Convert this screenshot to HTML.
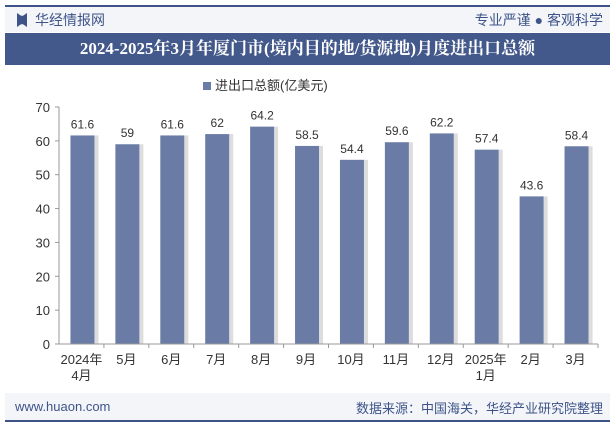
<!DOCTYPE html>
<html><head><meta charset="utf-8"><style>
body{margin:0;width:615px;height:427px;background:#fff;font-family:"Liberation Sans","Noto Sans CJK SC",sans-serif;overflow:hidden;position:relative}
.abs{position:absolute}
</style></head><body>
<div class="abs" style="left:5px;top:5px;width:605px;height:2px;background:#3e5488"></div>
<div class="abs" style="left:5px;top:7px;width:605px;height:25px;background:#f3f5f9"></div>
<div class="abs" style="left:17px;top:13px;width:10px;height:14px;background:#3e5488;clip-path:polygon(0 0,40% 20%,60% 20%,100% 0,100% 100%,60% 80%,40% 80%,0 100%)"></div>
<div class="abs" style="left:35px;top:10px;font-size:14px;color:#3e5488">华经情报网</div>
<div class="abs" style="right:12px;top:10px;font-size:14px;color:#3e5488">专业严谨 ● 客观科学</div>
<div class="abs" style="left:5px;top:33px;width:605px;height:32px;background:#44598b;color:#fff;font-family:'Liberation Serif','Noto Serif CJK SC',serif;font-weight:bold;font-size:17px;line-height:32px;text-align:center">2024-2025年3月年厦门市(境内目的地/货源地)月度进出口总额</div>
<div class="abs" style="left:203px;top:75px;font-size:13px;color:#333"><span style="display:inline-block;width:8px;height:8px;background:#6a7ca6;margin-right:4px"></span>进出口总额(亿美元)</div>
<svg class="abs" style="left:0;top:0" width="615" height="427">
<g id="g"></g></svg>
<div class="abs" style="left:5px;top:393px;width:605px;height:27px;background:#f3f5f9"></div>
<div class="abs" style="left:15px;top:399px;font-size:13px;color:#3e5488">www.huaon.com</div>
<div class="abs" style="right:12px;top:398px;font-size:13px;color:#3e5488">数据来源：中国海关，华经产业研究院整理</div>
<div class="abs" style="left:5px;top:420px;width:605px;height:2px;background:#3e5488"></div>
<script>
const categories=["2024年\n4月","5月","6月","7月","8月","9月","10月","11月","12月","2025年\n1月","2月","3月"];
const values=[61.6,59,61.6,62,64.2,58.5,54.4,59.6,62.2,57.4,43.6,58.4];
const yTicks=[0,10,20,30,40,50,60,70];
const NS="http://www.w3.org/2000/svg",g=document.getElementById('g');
const x0=59,x1=598,yb=344,yt=107,ymax=70;
const y=v=>yb-(yb-yt)*v/ymax;
const bw=(x1-x0)/categories.length;
const xc=i=>x0+bw*(i+0.5);
function mk(t,a,txt){const e=document.createElementNS(NS,t);for(const k in a)e.setAttribute(k,a[k]);if(txt!=null)e.textContent=txt;g.appendChild(e);return e;}
let e=mk('line',{x1:x0,y1:yt,x2:x0,y2:yb,stroke:'#999'});

yTicks.forEach(t=>{const l=mk('line',{x1:x0-4,x2:x0,y1:y(t),y2:y(t),stroke:'#999'});

const tx=mk('text',{x:x0-9,y:y(t)+5,'text-anchor':'end','font-size':13,fill:'#333'},t);
});
values.forEach((v,i)=>{
const s=mk('rect',{x:xc(i)-11+24,y:y(v),width:4,height:yb-y(v),fill:'#ddd'});

const r=mk('rect',{x:xc(i)-11,y:y(v),width:24,height:yb-y(v),fill:'#6a7ca6'});

const t=mk('text',{x:xc(i)+1,y:y(v)-7,'text-anchor':'middle','font-size':12,fill:'#333'},v);

categories[i].split('\n').forEach((ln,j)=>{const c=mk('text',{x:xc(i),y:yb+20+j*16,'text-anchor':'middle','font-size':13,fill:'#333'},ln);
});
const tk=mk('line',{x1:x0+bw*(i+1),x2:x0+bw*(i+1),y1:yb,y2:yb+4,stroke:'#999'});

});
e=mk('line',{x1:x0-4,y1:yb,x2:x1,y2:yb,stroke:'#999'});

</script>
</body></html>
